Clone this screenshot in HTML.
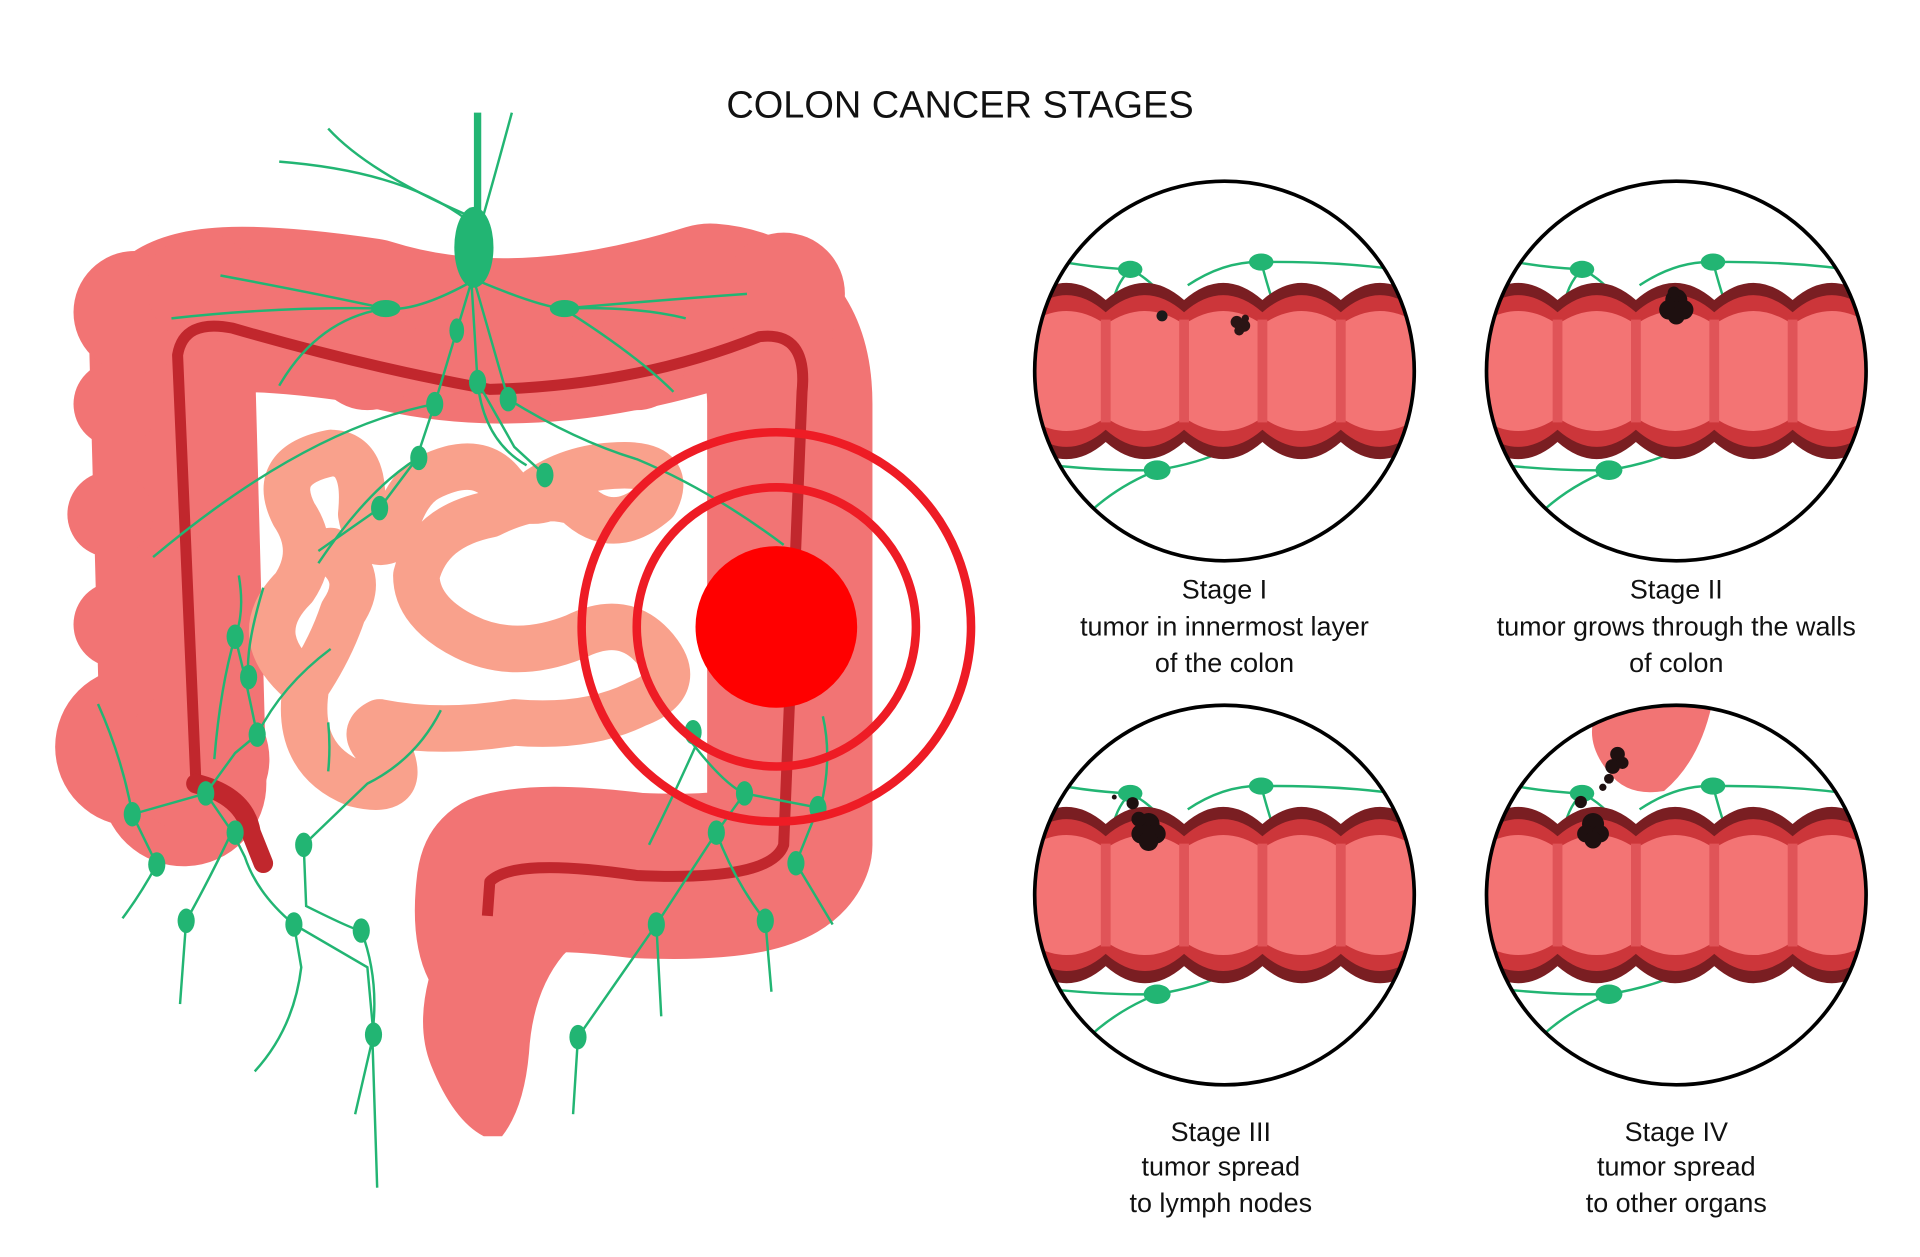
<!DOCTYPE html>
<html><head><meta charset="utf-8"><style>
html,body{margin:0;padding:0;background:#fff;}
svg{display:block;}
text{font-family:"Liberation Sans",sans-serif;fill:#111;}
</style></head><body>
<svg width="1920" height="1257" viewBox="0 0 1568 1026.6" xmlns="http://www.w3.org/2000/svg">
<defs>
<clipPath id="cc" clipPathUnits="userSpaceOnUse"><circle cx="0" cy="0" r="155"/></clipPath>
<g id="band">
<path fill="#7a1e22" d="M-225 -58 q32 -28 64 0 q32 -28 64 0 q32 -28 64 0 q32 -28 64 0 q32 -28 64 0 q32 -28 64 0 q32 -28 64 0 L223 58 q-32 28 -64 0 q-32 28 -64 0 q-32 28 -64 0 q-32 28 -64 0 q-32 28 -64 0 q-32 28 -64 0 q-32 28 -64 0 Z"/>
<path fill="#cc363a" d="M-225 -48 q32 -28 64 0 q32 -28 64 0 q32 -28 64 0 q32 -28 64 0 q32 -28 64 0 q32 -28 64 0 q32 -28 64 0 L223 48 q-32 28 -64 0 q-32 28 -64 0 q-32 28 -64 0 q-32 28 -64 0 q-32 28 -64 0 q-32 28 -64 0 q-32 28 -64 0 Z"/>
<path fill="#f37474" d="M-225 -38 q32 -22 64 0 q32 -22 64 0 q32 -22 64 0 q32 -22 64 0 q32 -22 64 0 q32 -22 64 0 q32 -22 64 0 L223 38 q-32 22 -64 0 q-32 22 -64 0 q-32 22 -64 0 q-32 22 -64 0 q-32 22 -64 0 q-32 22 -64 0 q-32 22 -64 0 Z"/>
<g fill="#e05458"><rect x="-165" y="-42" width="8" height="84"/><rect x="-101" y="-42" width="8" height="84"/><rect x="-37" y="-42" width="8" height="84"/><rect x="27" y="-42" width="8" height="84"/><rect x="91" y="-42" width="8" height="84"/><rect x="155" y="-42" width="8" height="84"/></g>
</g>
<g id="lym" fill="none" stroke="#22b573" stroke-width="2">
<path d="M-160 -95 Q-120 -85 -77 -83 Q-90 -70 -92 -50"/>
<path d="M-77 -83 Q-60 -75 -45 -55"/>
<path d="M-30 -70 Q0 -90 30 -89 Q100 -90 160 -80"/>
<path d="M30 -89 Q35 -70 40 -55"/>
<path d="M-160 75 Q-100 82 -55 81 Q-20 75 0 65"/>
<path d="M-55 81 Q-90 95 -115 120"/>
<ellipse cx="-77" cy="-83" rx="10" ry="7" fill="#22b573" stroke="none"/>
<ellipse cx="30" cy="-89" rx="10" ry="7" fill="#22b573" stroke="none"/>
<ellipse cx="-55" cy="81" rx="11" ry="8" fill="#22b573" stroke="none"/>
</g>
</defs>

<text x="784" y="96" font-size="31" text-anchor="middle">COLON CANCER STAGES</text>

<!-- colon -->
<g fill="#f27474">
<path d="M150 640 L140 270 Q150 240 300 262 Q420 300 580 250 Q645 255 645 330 L645 690 Q635 720 520 715 Q440 705 410 715" fill="none" stroke="#f27474" stroke-width="135" stroke-linejoin="round" stroke-linecap="round"/>
<circle cx="110" cy="255" r="50"/><circle cx="165" cy="235" r="45"/><circle cx="95" cy="330" r="35"/><circle cx="90" cy="420" r="35"/><circle cx="95" cy="510" r="35"/><circle cx="110" cy="610" r="65"/><circle cx="160" cy="620" r="60"/>
<circle cx="640" cy="240" r="50"/><circle cx="670" cy="310" r="35"/><circle cx="680" cy="400" r="30"/><circle cx="680" cy="520" r="30"/><circle cx="680" cy="640" r="30"/><circle cx="660" cy="700" r="35"/>
<circle cx="420" cy="290" r="50"/><circle cx="300" cy="290" r="45"/><circle cx="520" cy="295" r="40"/>
<path d="M400 650 Q345 660 340 720 Q335 770 350 800 Q340 840 352 870 Q370 915 395 928 L410 928 Q428 905 432 860 Q435 810 460 780 L480 760 L480 650 Z"/>
</g>
<path d="M160 640 L145 290 Q150 260 190 268 Q300 300 400 318 Q520 315 620 275 Q660 270 655 320 L640 690 Q630 720 520 715 Q420 700 400 720 L398 748" fill="none" stroke="#c1272d" stroke-width="9" stroke-linejoin="round"/>
<path d="M160 640 Q200 650 205 680 L215 705" fill="none" stroke="#c1272d" stroke-width="16" stroke-linecap="round"/>

<!-- small intestine -->
<path d="M270 370 Q220 380 240 420 Q260 450 240 480 Q200 520 250 560 Q240 620 290 640 Q330 650 320 620 Q290 600 310 590 Q360 600 420 590 Q480 595 520 575 Q560 560 535 530 Q510 500 470 520 Q420 540 380 520 Q340 500 340 470 Q350 430 400 420 Q440 400 470 410 Q500 440 535 410 Q550 380 510 380 Q470 380 440 400 M270 370 Q300 370 295 420 Q300 450 320 440 Q330 400 350 390 Q390 370 410 395 Q430 420 460 400 M250 560 Q270 530 280 500 Q300 470 270 450" fill="none" stroke="#f9a18c" stroke-width="38" stroke-linecap="round" stroke-linejoin="round"/>

<!-- lymph left -->
<g fill="none" stroke="#22b573" stroke-width="2">
<line x1="390" y1="92" x2="390" y2="180" stroke-width="6"/>
<path d="M418 92 Q405 140 395 175"/>
<path d="M228 132 Q330 140 382 180"/>
<path d="M268 105 Q300 140 380 175"/>
<path d="M385 230 Q340 255 315 252 Q230 250 140 260 M315 252 Q260 260 228 315"/>
<path d="M180 225 Q260 240 315 252"/>
<path d="M392 230 Q440 250 460 252 Q540 245 610 240 M460 252 Q520 250 560 260 M460 252 Q520 290 550 320"/>
<path d="M385 230 L373 270 L355 330 L340 375 L310 415 L260 450 M385 230 L390 312 L420 365 L445 388 M390 312 Q395 360 430 380 M388 232 L415 326 Q470 360 520 375 Q580 400 640 445"/>
<path d="M355 330 Q250 350 125 455 M340 375 Q300 400 260 460"/>
<path d="M80 575 Q100 620 108 665 L128 706 Q115 730 100 750"/>
<path d="M108 665 L168 648 L192 615 L210 600 Q230 560 270 530 M168 648 L190 680 L200 700 Q210 730 240 755 L300 790 L305 845 L290 910 M210 600 L200 553 L192 520 M192 520 Q180 560 175 620"/>
<path d="M215 480 Q200 530 203 553 M192 520 Q200 500 195 470"/>
<path d="M190 678 Q170 720 152 752 L147 820 M240 755 L246 790 Q240 840 208 875 M248 690 L250 740 Q290 760 295 760 Q310 800 304 845 L308 970"/>
<path d="M268 590 Q270 610 268 630 M248 690 L300 640 Q340 620 360 580"/>
<path d="M560 600 Q590 640 608 648 L670 660 Q680 620 672 585 M608 648 L585 680 L536 755 L472 847 L468 910 M585 680 Q600 720 625 752 L630 810 M536 755 L540 830 M650 705 L668 660 M650 705 L680 755 M530 690 Q550 650 570 605"/>
</g>
<g fill="#22b573">
<ellipse cx="387" cy="202" rx="16" ry="33"/>
<ellipse cx="315" cy="252" rx="12" ry="7"/><ellipse cx="461" cy="252" rx="12" ry="7"/>
<ellipse cx="373" cy="270" rx="6" ry="10"/><ellipse cx="390" cy="312" rx="7" ry="10"/><ellipse cx="355" cy="330" rx="7" ry="10"/><ellipse cx="415" cy="326" rx="7" ry="10"/>
<ellipse cx="342" cy="374" rx="7" ry="10"/><ellipse cx="445" cy="388" rx="7" ry="10"/><ellipse cx="310" cy="415" rx="7" ry="10"/>
<ellipse cx="192" cy="520" rx="7" ry="10"/><ellipse cx="203" cy="553" rx="7" ry="10"/><ellipse cx="210" cy="600" rx="7" ry="10"/>
<ellipse cx="168" cy="648" rx="7" ry="10"/><ellipse cx="108" cy="665" rx="7" ry="10"/><ellipse cx="192" cy="680" rx="7" ry="10"/><ellipse cx="128" cy="706" rx="7" ry="10"/>
<ellipse cx="248" cy="690" rx="7" ry="10"/><ellipse cx="152" cy="752" rx="7" ry="10"/><ellipse cx="240" cy="755" rx="7" ry="10"/><ellipse cx="295" cy="760" rx="7" ry="10"/><ellipse cx="305" cy="845" rx="7" ry="10"/>
<ellipse cx="608" cy="648" rx="7" ry="10"/><ellipse cx="668" cy="660" rx="7" ry="10"/><ellipse cx="585" cy="680" rx="7" ry="10"/><ellipse cx="650" cy="705" rx="7" ry="10"/>
<ellipse cx="536" cy="755" rx="7" ry="10"/><ellipse cx="625" cy="752" rx="7" ry="10"/><ellipse cx="472" cy="847" rx="7" ry="10"/><ellipse cx="566" cy="598" rx="7" ry="10"/>
</g>

<!-- target -->
<circle cx="634" cy="512" r="66" fill="#ff0000"/>
<circle cx="634" cy="512" r="114" fill="none" stroke="#ee1c25" stroke-width="7"/>
<circle cx="634" cy="512" r="159" fill="none" stroke="#ee1c25" stroke-width="7"/>

<!-- stage circles -->
<g transform="translate(1000,303)"><g clip-path="url(#cc)"><use href="#lym"/><use href="#band"/>
<circle cx="-51" cy="-45" r="4.5" fill="#1a1a1a"/><g fill="#2a1414"><circle cx="10" cy="-40" r="5"/><circle cx="16" cy="-37" r="5"/><circle cx="12" cy="-33" r="4"/><circle cx="17" cy="-43" r="3"/></g>
</g><circle r="155" fill="none" stroke="#000" stroke-width="3"/></g>

<g transform="translate(1369,303)"><g clip-path="url(#cc)"><use href="#lym"/><use href="#band"/>
<g fill="#1e1010"><circle cx="0" cy="-58" r="9"/><circle cx="-6" cy="-50" r="8"/><circle cx="6" cy="-50" r="8"/><circle cx="0" cy="-45" r="7"/><circle cx="-2" cy="-64" r="5"/></g>
</g><circle r="155" fill="none" stroke="#000" stroke-width="3"/></g>

<g transform="translate(1000,731)"><g clip-path="url(#cc)"><use href="#lym"/><use href="#band"/>
<g fill="#1e1010"><circle cx="-62" cy="-58" r="9"/><circle cx="-68" cy="-50" r="8"/><circle cx="-56" cy="-50" r="8"/><circle cx="-62" cy="-44" r="8"/><circle cx="-70" cy="-62" r="6"/><circle cx="-75" cy="-75" r="5"/><circle cx="-90" cy="-80" r="2"/></g>
</g><circle r="155" fill="none" stroke="#000" stroke-width="3"/></g>

<g transform="translate(1369,731)"><g clip-path="url(#cc)">
<path d="M-60 -160 Q-80 -130 -55 -100 Q-40 -80 -10 -85 Q20 -110 30 -160 Z" fill="#f27474"/>
<use href="#lym"/><use href="#band"/>
<g fill="#1e1010"><circle cx="-68" cy="-58" r="9"/><circle cx="-74" cy="-50" r="7"/><circle cx="-62" cy="-50" r="7"/><circle cx="-68" cy="-45" r="7"/><circle cx="-78" cy="-76" r="5"/>
<circle cx="-48" cy="-115" r="6"/><circle cx="-52" cy="-105" r="6"/><circle cx="-44" cy="-108" r="5"/><circle cx="-55" cy="-95" r="4"/><circle cx="-60" cy="-88" r="3"/></g>
</g><circle r="155" fill="none" stroke="#000" stroke-width="3"/></g>

<g font-size="22" text-anchor="middle">
<text x="1000" y="489">Stage I</text><text x="1000" y="519">tumor in innermost layer</text><text x="1000" y="549">of the colon</text>
<text x="1369" y="489">Stage II</text><text x="1369" y="519">tumor grows through the walls</text><text x="1369" y="549">of colon</text>
<text x="997" y="932">Stage III</text><text x="997" y="960">tumor spread</text><text x="997" y="990">to lymph nodes</text>
<text x="1369" y="932">Stage IV</text><text x="1369" y="960">tumor spread</text><text x="1369" y="990">to other organs</text>
</g>
</svg>
</body></html>
